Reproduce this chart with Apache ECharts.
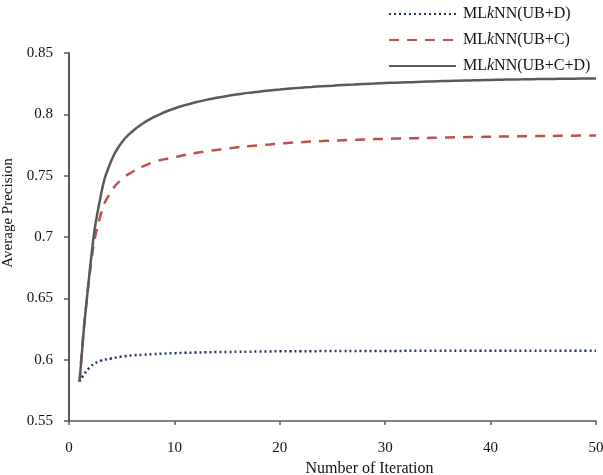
<!DOCTYPE html>
<html>
<head>
<meta charset="utf-8">
<script src="https://cdn.jsdelivr.net/npm/echarts@6/dist/echarts.min.js"></script>
<style>
html, body { margin: 0; padding: 0; background: #fff; }
#chart { width: 603px; height: 475px; }
</style>
</head>
<body>
<div id="chart"></div>
<script>
// iterations 1..50
var iterations = [];
for (var i = 1; i <= 50; i++) iterations.push(i);

var ubD = [0.582, 0.594, 0.599, 0.601, 0.6025, 0.6035, 0.604, 0.6045, 0.605, 0.6053,
    0.6056, 0.6058, 0.606, 0.6062, 0.6063, 0.6064, 0.6065, 0.6066, 0.6067, 0.6068,
    0.6068, 0.6069, 0.6069, 0.607, 0.607, 0.607, 0.6071, 0.6071, 0.6071, 0.6071,
    0.6071, 0.6072, 0.6072, 0.6072, 0.6072, 0.6072, 0.6072, 0.6072, 0.6073, 0.6073,
    0.6073, 0.6073, 0.6073, 0.6073, 0.6073, 0.6073, 0.6073, 0.6073, 0.6073, 0.6073];

var ubC = [0.582, 0.672, 0.718, 0.737, 0.747, 0.753, 0.7575, 0.761, 0.7633, 0.765,
    0.7668, 0.7684, 0.7698, 0.771, 0.7721, 0.7731, 0.774, 0.7748, 0.7755, 0.7762,
    0.7768, 0.7773, 0.7778, 0.7782, 0.7786, 0.7789, 0.7792, 0.7795, 0.7798, 0.78,
    0.7802, 0.7804, 0.7806, 0.7808, 0.781, 0.7812, 0.7813, 0.7815, 0.7816, 0.7818,
    0.7819, 0.782, 0.7821, 0.7822, 0.7823, 0.7824, 0.7825, 0.7826, 0.7827, 0.7828];

var ubCD = [0.582, 0.675, 0.733, 0.762, 0.777, 0.786, 0.7925, 0.7975, 0.8015, 0.8048,
    0.8075, 0.8098, 0.8118, 0.8135, 0.815, 0.8163, 0.8175, 0.8185, 0.8194, 0.8202,
    0.821, 0.8217, 0.8223, 0.8229, 0.8234, 0.8239, 0.8243, 0.8247, 0.8251, 0.8255,
    0.8258, 0.8261, 0.8264, 0.8267, 0.827, 0.8272, 0.8274, 0.8276, 0.8278, 0.828,
    0.8282, 0.8284, 0.8285, 0.8287, 0.8288, 0.8289, 0.829, 0.8291, 0.8292, 0.8293];

var seriesNames = ['MLkNN(UB+D)', 'MLkNN(UB+C)', 'MLkNN(UB+C+D)'];

function pairs(ys) {
    return ys.map(function (y, k) { return [iterations[k], y]; });
}

var font = '"Liberation Serif", "Times New Roman", serif';
var chart = echarts.init(document.getElementById('chart'));
chart.setOption({
    animation: false,
    textStyle: { fontFamily: font },
    legend: {
        orient: 'vertical',
        left: 383,
        top: 1,
        itemWidth: 67,
        itemHeight: 16,
        itemGap: 10,
        itemStyle: { opacity: 0 },
        formatter: function (name) {
            return name.replace('MLkNN', 'ML{i|k}NN');
        },
        textStyle: {
            fontFamily: font, fontSize: 16, color: '#111', padding: [0, 0, 0, 2],
            rich: { i: { fontFamily: font, fontSize: 16, fontStyle: 'italic', color: '#111' } }
        },
        data: seriesNames
    },
    grid: { left: 69, right: 7, top: 53, bottom: 54, outerBoundsMode: 'none', containLabel: false },
    xAxis: {
        type: 'value',
        min: 0, max: 50, interval: 10,
        name: 'Number of Iteration',
        nameLocation: 'middle',
        nameGap: 34,
        nameTextStyle: { fontFamily: font, fontSize: 16, color: '#111', padding: [0, 0, 0, 74] },
        axisLine: { lineStyle: { color: '#595959', width: 1.5 } },
        axisTick: { inside: false, length: 4, lineStyle: { color: '#595959', width: 1.5 } },
        axisLabel: { margin: 20, fontFamily: font, fontSize: 15, color: '#111' },
        splitLine: { show: false }
    },
    yAxis: {
        type: 'value',
        min: 0.55, max: 0.85, interval: 0.05,
        name: 'Average Precision',
        nameLocation: 'middle',
        nameGap: 52,
        nameTextStyle: { fontFamily: font, fontSize: 15, color: '#111', padding: [0, 0, 0, 48] },
        axisLine: { show: true, lineStyle: { color: '#595959', width: 2 } },
        axisTick: { show: true, length: 5, lineStyle: { color: '#595959', width: 1.5 } },
        axisLabel: { margin: 16, fontFamily: font, fontSize: 15, color: '#111' },
        splitLine: { show: false }
    },
    series: [{
        name: seriesNames[0],
        type: 'line',
        smooth: true,
        symbol: 'none',
        data: pairs(ubD),
        itemStyle: { color: '#1F3864' },
        lineStyle: { color: '#1F3864', width: 2.5, type: [2, 3] }
    }, {
        name: seriesNames[1],
        type: 'line',
        smooth: true,
        symbol: 'none',
        data: pairs(ubC),
        itemStyle: { color: '#C0504D' },
        lineStyle: { color: '#C0504D', width: 2.5, type: [10, 8] }
    }, {
        name: seriesNames[2],
        type: 'line',
        smooth: true,
        symbol: 'none',
        data: pairs(ubCD),
        itemStyle: { color: '#595959' },
        lineStyle: { color: '#595959', width: 2.5 }
    }]
});
</script>
</body>
</html>
